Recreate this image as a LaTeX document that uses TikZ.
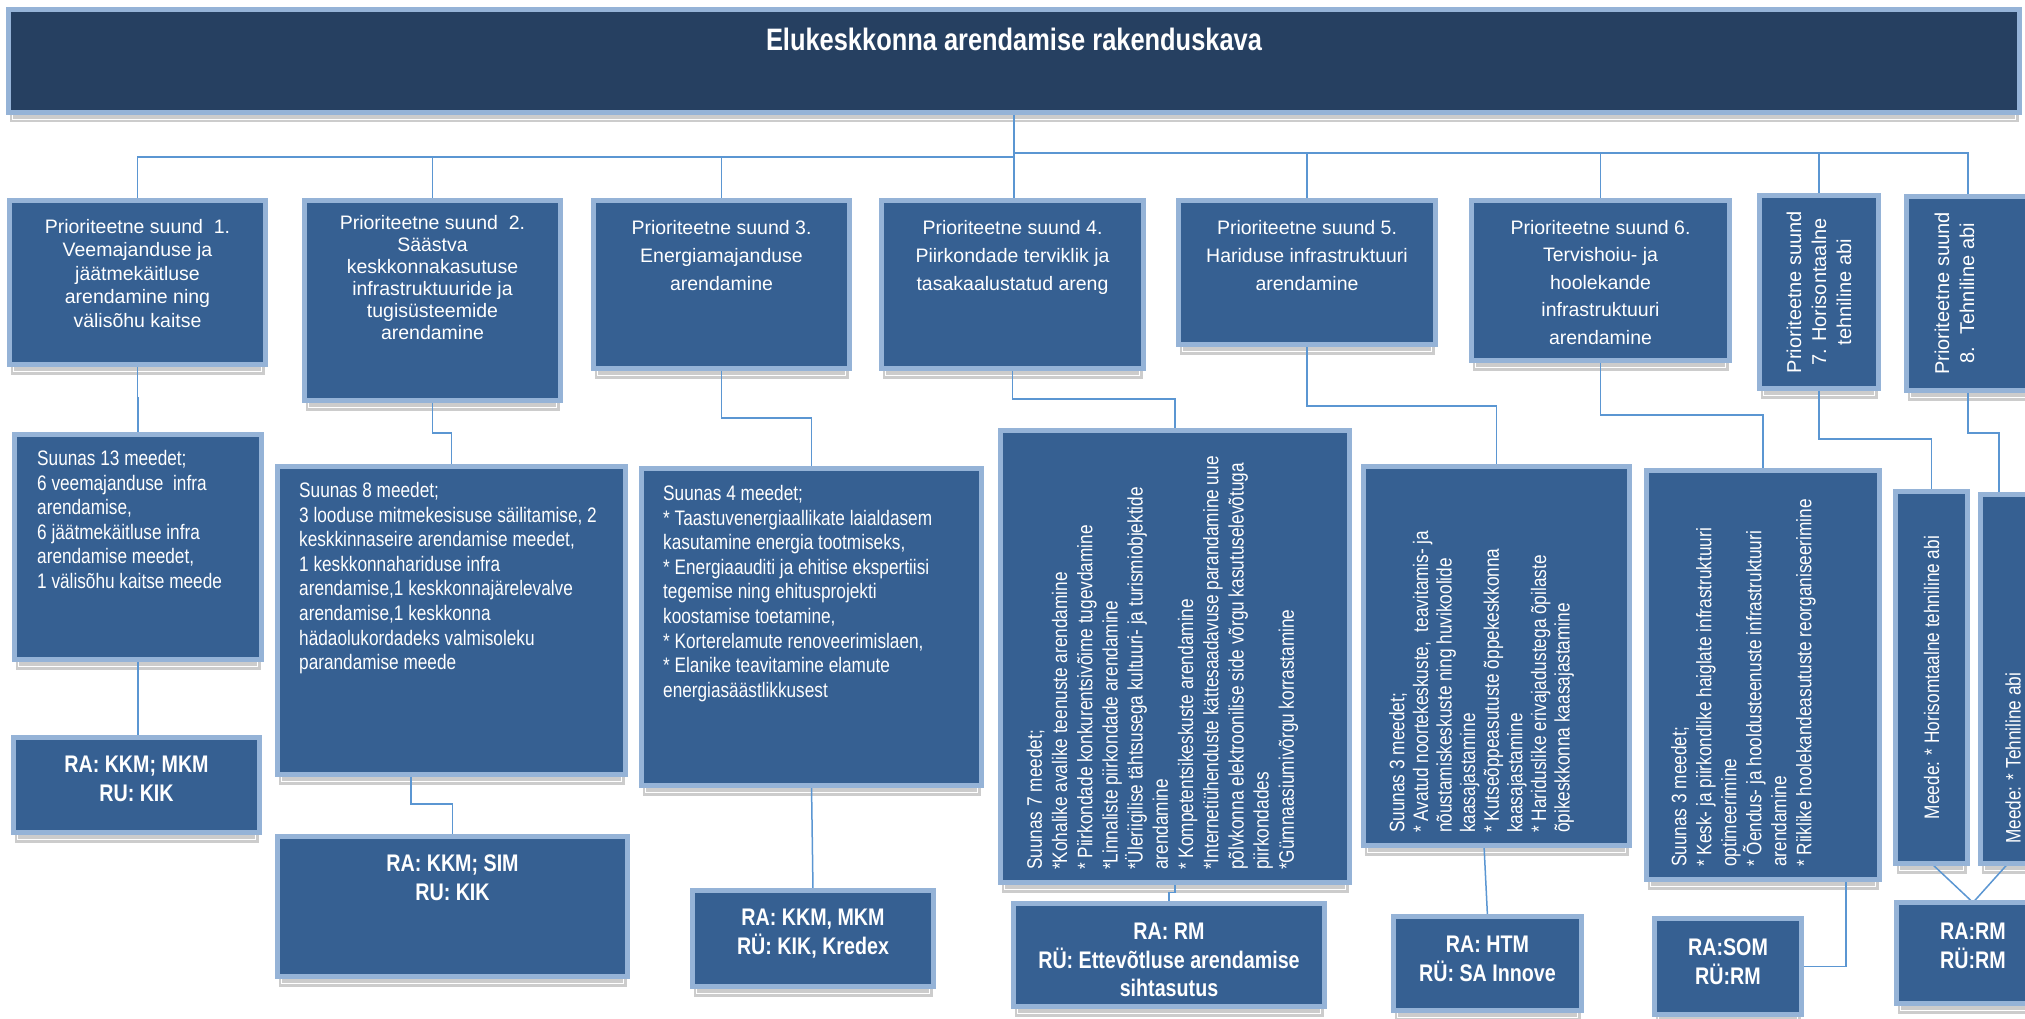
\documentclass[tikz,border=0pt]{standalone}
\usepackage{fontspec}
\setmainfont{Liberation Sans}
\newfontfamily\kitsas[FakeStretch=0.82]{Liberation Sans}
\usetikzlibrary{positioning,backgrounds}

\definecolor{tume}{RGB}{38,64,97}
\definecolor{sinine}{RGB}{54,96,146}
\definecolor{piir}{RGB}{149,179,215}
\definecolor{vari}{RGB}{204,204,204}
\definecolor{joonsin}{RGB}{91,150,210}

\tikzset{
    kast/.style={draw=piir, line width=5pt, fill=sinine, inner sep=0pt, outer sep=0pt},
    pealkiri/.style={text=white, inner sep=0pt, font=\kitsas\bfseries\fontsize{31}{36}\selectfont},
    suund/.style={text=white, inner sep=0pt, align=center, font=\fontsize{19.5}{28}\selectfont},
    meetmed/.style={text=white, inner sep=0pt, align=left, font=\kitsas\fontsize{21}{24.6}\selectfont},
    asutus/.style={text=white, inner sep=0pt, align=center, font=\kitsas\bfseries\fontsize{24}{28.5}\selectfont},
    joon/.style={draw=joonsin, line width=1.5pt}
}

\begin{document}
\begin{tikzpicture}[x=1pt, y=-1pt]
    \useasboundingbox (0,0) rectangle (2025,1019);

    \node[kast, fill=tume, minimum width=2011pt, minimum height=103pt] (t) at (1014,61) {};

    \node[kast, minimum width=256pt, minimum height=164pt] (p1) at (137.5,282.5) {};
    \node[kast, minimum width=256pt, minimum height=200pt] (p2) at (432.5,300.5) {};
    \node[kast, minimum width=256pt, minimum height=168pt] (p3) at (721.5,284.5) {};
    \node[kast, minimum width=262pt, minimum height=168pt] (p4) at (1012.5,284.5) {};
    \node[kast, minimum width=257pt, minimum height=144pt] (p5) at (1307,272.5) {};
    \node[kast, minimum width=258pt, minimum height=160pt] (p6) at (1600.5,280.5) {};
    \node[kast, minimum width=119pt, minimum height=193pt] (p7) at (1819,292) {};
    \node[kast, minimum width=123pt, minimum height=194pt] (p8) at (1968,293.5) {};

    \node[kast, minimum width=247pt, minimum height=225pt] (m1) at (138,547) {};
    \node[kast, minimum width=348pt, minimum height=308pt] (m2) at (451.5,620.5) {};
    \node[kast, minimum width=340pt, minimum height=317pt] (m3) at (811.5,627) {};
    \node[kast, minimum width=349pt, minimum height=452pt] (m4) at (1175,656.5) {};
    \node[kast, minimum width=266pt, minimum height=379pt] (m5) at (1496.5,656) {};
    \node[kast, minimum width=233pt, minimum height=409pt] (m6) at (1763,675) {};
    \node[kast, minimum width=72pt, minimum height=372pt] (m7) at (1931.5,677.5) {};
    \node[kast, minimum width=72pt, minimum height=369pt] (m8) at (2016.5,679) {};

    \node[kast, minimum width=246pt, minimum height=95pt] (ra1) at (136.5,785) {};
    \node[kast, minimum width=350pt, minimum height=140pt] (ra2) at (452.5,906.5) {};
    \node[kast, minimum width=241pt, minimum height=96pt] (ra3) at (813,938.5) {};
    \node[kast, minimum width=311pt, minimum height=103pt] (ra4) at (1169,955) {};
    \node[kast, minimum width=188pt, minimum height=94pt] (ra5) at (1487.5,963.5) {};
    \node[kast, minimum width=147pt, minimum height=96pt] (ra6) at (1728,966.5) {};
    \node[kast, minimum width=153pt, minimum height=101pt] (ra78) at (1973,953) {};

    \begin{scope}[on background layer]
        \foreach \k in {t,p1,p2,p3,p4,p5,p6,p7,p8,m1,m2,m3,m4,m5,m6,m7,m8,ra1,ra2,ra3,ra4,ra5,ra6,ra78} {
            \fill[vari] ([xshift=1pt]\k.south west) rectangle ([xshift=-1pt,yshift=-10pt]\k.south east);
            \draw[white, line width=0.7pt] ([xshift=4pt]\k.south west) |- ([xshift=-4pt,yshift=-7pt]\k.south east) -- ([xshift=-4pt]\k.south east);
        }
        \draw[joon] (t.south) -- (t.south |- p4.north);
        \draw[joon] (t.south) -- ++(0,44.5) -| (p1.north);
        \draw[joon] (t.south) -- ++(0,44.5) -| (p2.north);
        \draw[joon] (t.south) -- ++(0,44.5) -| (p3.north);
        \draw[joon] (t.south) -- ++(0,40.5) -| (p5.north);
        \draw[joon] (t.south) -- ++(0,40.5) -| (p6.north);
        \draw[joon] (t.south) -- ++(0,40.5) -| (p7.north);
        \draw[joon] (t.south) -- ++(0,40.5) -| (p8.north);

        \draw[joon] (p1.south) -- ++(0,33.5) -| (m1.north);
        \draw[joon] (p2.south) -- ++(0,32.5) -| (m2.north);
        \draw[joon] (p3.south) -- ++(0,49.5) -| (m3.north);
        \draw[joon] (p4.south) -- ++(0,30.5) -| (m4.north);
        \draw[joon] (p5.south) -- ++(0,61.5) -| (m5.north);
        \draw[joon] (p6.south) -- ++(0,54.5) -| (m6.north);
        \draw[joon] (p7.south) -- ++(0,50.5) -| (m7.north);
        \draw[joon] (p8.south) -- ++(0,42.5) -| ([xshift=-17.5pt]m8.north);

        \draw[joon] (m1.south) -- (m1.south |- ra1.north);
        \draw[joon] ([xshift=-40.5pt]m2.south) -- ++(0,29.5) -| (ra2.north);
        \draw[joon] (m3.south) -- (ra3.north);
        \draw[joon] (m4.south) -- ++(0,10) -| (ra4.north);
        \draw[joon] ([xshift=-12.5pt]m5.south) -- (ra5.north);
        \draw[joon] ([xshift=83pt]m6.south) |- (ra6.east);
        \draw[joon] (m7.south) -- (ra78.north);
        \draw[joon] ([xshift=-8.5pt]m8.south) -- (ra78.north);
    \end{scope}

    \node[pealkiri, below=18.5pt of t.north] (tt) {Elukeskkonna arendamise rakenduskava};

    \node[suund, font=\fontsize{19.5}{23.5}\selectfont, below=18.5pt of p1.north] (p1t) {Prioriteetne suund~ 1.\\Veemajanduse ja\\jäätmekäitluse\\arendamine ning\\välisõhu kaitse};
    \node[suund, font=\fontsize{19.5}{22}\selectfont, below=14.5pt of p2.north] (p2t) {Prioriteetne suund~ 2.\\Säästva\\keskkonnakasutuse\\infrastruktuuride ja\\tugisüsteemide\\arendamine};
    \node[suund, below=19.5pt of p3.north] (p3t) {Prioriteetne suund 3.\\Energiamajanduse\\arendamine};
    \node[suund, below=19.5pt of p4.north] (p4t) {Prioriteetne suund 4.\\Piirkondade terviklik ja\\tasakaalustatud areng};
    \node[suund, below=19.5pt of p5.north] (p5t) {Prioriteetne suund 5.\\Hariduse infrastruktuuri\\arendamine};
    \node[suund, font=\fontsize{19.5}{27.5}\selectfont, below=19.5pt of p6.north] (p6t) {Prioriteetne suund 6.\\Tervishoiu- ja\\hoolekande\\infrastruktuuri\\arendamine};
    \node[suund, rotate=90, font=\fontsize{20}{25}\selectfont] (p7t) at (p7.center) {Prioriteetne suund\\7. Horisontaalne\\tehniline abi};
    \node[suund, rotate=90, font=\fontsize{20}{25}\selectfont] (p8t) at ([xshift=-13.5pt]p8.center) {Prioriteetne suund\\8.~ Tehniline abi};

    \node[meetmed, anchor=north west] (m1t) at ([shift={(22.5,15.5)}]m1.north west) {Suunas 13 meedet;\\6 veemajanduse~ infra\\arendamise,\\6 jäätmekäitluse infra\\arendamise meedet,\\1 välisõhu kaitse meede};
    \node[meetmed, anchor=north west] (m2t) at ([shift={(21.5,15.5)}]m2.north west) {Suunas 8 meedet;\\3 looduse mitmekesisuse säilitamise, 2\\keskkinnaseire arendamise meedet,\\1 keskkonnahariduse infra\\arendamise,1 keskkonnajärelevalve\\arendamise,1 keskkonna\\hädaolukordadeks valmisoleku\\parandamise meede};
    \node[meetmed, anchor=north west] (m3t) at ([shift={(21.5,16.5)}]m3.north west) {Suunas 4 meedet;\\{*} Taastuvenergiaallikate laialdasem\\kasutamine energia tootmiseks,\\{*} Energiaauditi ja ehitise ekspertiisi\\tegemise ning ehitusprojekti\\koostamise toetamine,\\{*} Korterelamute renoveerimislaen,\\{*} Elanike teavitamine elamute\\energiasäästlikkusest};
    \node[meetmed, rotate=90, anchor=north west, font=\kitsas\fontsize{21}{25.2}\selectfont] (m4t) at ([shift={(26,-12.5)}]m4.south west) {Suunas 7 meedet;\\{*}Kohalike avalike teenuste arendamine\\{*} Piirkondade konkurentsivõime tugevdamine\\{*}Linnaliste piirkondade arendamine\\{*}Üleriigilise tähtsusega kultuuri- ja turismiobjektide\\arendamine\\{*} Kompetentsikeskuste arendamine\\{*}Internetiühenduste kättesaadavuse parandamine uue\\põlvkonna elektroonilise side võrgu kasutuselevõtuga\\piirkondades\\{*}Gümnaasiumivõrgu korrastamine};
    \node[meetmed, rotate=90, anchor=north west, font=\kitsas\fontsize{21}{23.6}\selectfont] (m5t) at ([shift={(25.5,-12.5)}]m5.south west) {Suunas 3 meedet;\\{*} Avatud noortekeskuste,~ teavitamis- ja\\nõustamiskeskuste ning huvikoolide\\kaasajastamine\\{*} Kutseõppeasutuste õppekeskkonna\\kaasajastamine\\{*} Hariduslike erivajadustega õpilaste\\õpikeskkonna kaasajastamine};
    \node[meetmed, rotate=90, anchor=north west, font=\kitsas\fontsize{21}{25}\selectfont] (m6t) at ([shift={(24.5,-12.5)}]m6.south west) {Suunas 3 meedet;\\{*} Kesk- ja piirkondlike haiglate infrastruktuuri\\optimeerimine\\{*} Õendus- ja hooldusteenuste infrastruktuuri\\arendamine\\{*} Riiklike hoolekandeasutuste reorganiseerimine};
    \node[meetmed, rotate=90] (m7t) at (m7.center) {Meede: * Horisomtaalne tehniline abi};
    \node[meetmed, rotate=90, anchor=west] (m8t) at ([shift={(-3.5,-19.5)}]m8.south) {Meede: * Tehniline abi};

    \node[asutus, below=18.5pt of ra1.north] (ra1t) {RA: KKM; MKM\\RU: KIK};
    \node[asutus, below=18.5pt of ra2.north] (ra2t) {RA: KKM; SIM\\RU: KIK};
    \node[asutus, below=18.5pt of ra3.north] (ra3t) {RA: KKM, MKM\\RÜ: KIK, Kredex};
    \node[asutus, below=19.5pt of ra4.north] (ra4t) {RA: RM\\RÜ: Ettevõtluse arendamise\\sihtasutus};
    \node[asutus, below=19.5pt of ra5.north] (ra5t) {RA: HTM\\RÜ: SA Innove};
    \node[asutus, below=20.5pt of ra6.north] (ra6t) {RA:SOM\\RÜ:RM};
    \node[asutus, below=20.5pt of ra78.north] (ra78t) {RA:RM\\RÜ:RM};
\end{tikzpicture}
\end{document}
